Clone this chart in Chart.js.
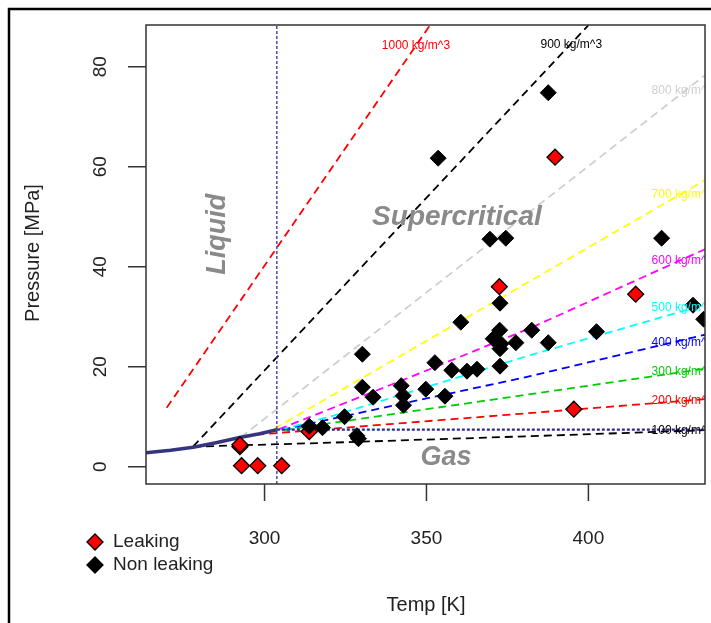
<!DOCTYPE html>
<html lang="en">
<head>
    <meta charset="UTF-8">
    <title>Pressure vs Temp</title>
    <script src="https://cdn.jsdelivr.net/npm/chart.js"></script>
    <style>
        html, body { margin: 0; padding: 0; background: #fff; }
        canvas { display: block; }
    </style>
</head>
<body>
    <canvas id="wykres" width="711" height="623"></canvas>

    <script>
        // axes
        const tempRange = [263.4, 436.0];
        const pressureRange = [-3.46, 88.34];
        const tempTicks = [300, 350, 400];
        const pressureTicks = [0, 20, 40, 60, 80];

        // samples [Temp K, Pressure MPa]
        const leaking = [[292.4, 4.0], [292.4, 4.4], [292.9, 0.2], [297.9, 0.2], [305.3, 0.2],
            [313.8, 7.0], [372.5, 36.0], [389.7, 61.9], [414.6, 34.5], [395.5, 11.5]];
        const nonLeaking = [[387.6, 74.8], [353.6, 61.7], [369.6, 45.5], [374.5, 45.7], [422.6, 45.7],
            [372.7, 32.7], [360.6, 28.9], [432.3, 32.3], [435.6, 29.5], [372.6, 27.3], [382.5, 27.3],
            [402.5, 27.0], [370.6, 25.6], [373.0, 24.6], [372.7, 23.6], [377.6, 24.8], [387.6, 24.8],
            [352.6, 20.8], [357.8, 19.3], [362.5, 19.1], [365.6, 19.5], [372.7, 20.1], [349.8, 15.5],
            [355.7, 14.1], [330.2, 22.5], [330.2, 15.9], [333.5, 13.9], [342.2, 16.2], [342.8, 14.2],
            [342.9, 12.3], [324.7, 10.0], [328.5, 6.2], [329.0, 5.6], [313.8, 8.1], [317.9, 7.8]];

        // phase boundary
        const saturation = [[263.4, 2.8], [271, 3.3], [278, 3.9], [285, 4.8], [292.7, 5.9], [298.5, 6.6], [303.8, 7.4]];
        const criticalPoint = [303.8, 7.4];

        // isochores
        const isoNames = ['1000 kg/m^3', '900 kg/m^3', '800 kg/m^3', '700 kg/m^3', '600 kg/m^3',
            '500 kg/m^3', '400 kg/m^3', '300 kg/m^3', '200 kg/m^3', '100 kg/m^3'];
        const iso1000 = [[269.8, 11.8], [351.1, 88.3]];
        const iso900 = [[277.9, 4.0], [400.0, 88.3]];
        const iso800 = [[292.7, 5.9], [436.0, 78.3]];
        const iso700 = [[303.0, 7.6], [436.0, 57.3]];
        const iso600 = [[304.5, 7.5], [348.0, 18.7], [382.0, 27.7], [436.0, 43.5]];
        const iso500 = [[305.0, 7.4], [320.2, 10.0], [382.0, 22.3], [436.0, 32.4]];
        const iso400 = [[305.5, 7.4], [320.2, 9.5], [382.0, 18.1], [436.0, 26.4]];
        const iso300 = [[306.0, 7.3], [320.2, 8.7], [382.0, 14.5], [436.0, 19.6]];
        const iso200 = [[297.4, 6.4], [436.0, 13.5]];
        const iso100 = [[277.9, 4.0], [320.2, 4.8], [382.0, 6.1], [436.0, 7.3]];

        const isochores = [iso1000, iso900, iso800, iso700, iso600, iso500, iso400, iso300, iso200, iso100];
        const isoColors = ['#ff0000', '#000000', '#cfcfcf', '#ffff00', '#ff00ff',
            '#00ffff', '#0000ff', '#00cd00', '#ff0000', '#000000'];
        // where the labels sit [Temp, Pressure]
        const isoLabelAt = [[336.2, 84.3], [385.2, 84.5], [419.5, 75.3], [419.5, 54.5], [419.5, 41.2],
            [419.5, 31.9], [419.5, 24.8], [419.5, 19.0], [419.5, 13.3], [419.5, 7.3]];

        const xy = pts => pts.map(([x, y]) => ({x, y}));
        const FONT = '"Liberation Sans", Arial, sans-serif';

        const datasets = [
            {
                label: 'Non leaking',
                data: xy(nonLeaking),
                pointStyle: 'rectRot',
                pointRadius: 8,
                backgroundColor: '#000',
                borderColor: '#000',
                borderWidth: 1,
                order: 0
            },
            {
                label: 'Leaking',
                data: xy(leaking),
                pointStyle: 'rectRot',
                pointRadius: 8,
                backgroundColor: '#ff0000',
                borderColor: '#000',
                borderWidth: 1.3,
                order: 1
            },
            {
                label: 'critical T',
                data: xy([[criticalPoint[0], pressureRange[0]], [criticalPoint[0], pressureRange[1]]]),
                showLine: true,
                pointRadius: 0,
                borderColor: '#3b3ba8',
                borderWidth: 1.4,
                borderDash: [3, 2],
                order: 2
            },
            {
                label: 'critical P',
                data: xy([criticalPoint, [tempRange[1], criticalPoint[1]]]),
                showLine: true,
                pointRadius: 0,
                borderColor: '#2e2e8c',
                borderWidth: 2.2,
                borderDash: [3, 2],
                order: 2
            },
            {
                label: 'saturation',
                data: xy(saturation),
                showLine: true,
                pointRadius: 0,
                borderColor: '#35357f',
                borderWidth: 3.5,
                order: 3
            }
        ];

        isochores.forEach((line, i) => {
            datasets.push({
                label: isoNames[i],
                data: xy(line),
                showLine: true,
                pointRadius: 0,
                borderColor: isoColors[i],
                borderWidth: 1.8,
                borderDash: [8, 5],
                order: 4
            });
        });

        function diamond(ctx, x, y, r, fill) {
            ctx.beginPath();
            ctx.moveTo(x - r, y);
            ctx.lineTo(x, y - r);
            ctx.lineTo(x + r, y);
            ctx.lineTo(x, y + r);
            ctx.closePath();
            ctx.fillStyle = fill;
            ctx.fill();
            ctx.lineWidth = 1.3;
            ctx.strokeStyle = '#000';
            ctx.stroke();
        }

        const rysunek = {
            id: 'rysunek',
            afterDatasetsDraw(chart) {
                const {ctx, chartArea: a, scales: {x, y}} = chart;
                ctx.save();
                ctx.beginPath();
                ctx.rect(a.left, a.top, a.right - a.left, a.bottom - a.top);
                ctx.clip();

                // isochore names
                ctx.font = '12px ' + FONT;
                ctx.textAlign = 'left';
                ctx.textBaseline = 'middle';
                isoNames.forEach((name, i) => {
                    ctx.fillStyle = isoColors[i];
                    ctx.fillText(name, x.getPixelForValue(isoLabelAt[i][0]), y.getPixelForValue(isoLabelAt[i][1]));
                });

                // phase regions
                ctx.fillStyle = '#8a8a8a';
                ctx.font = 'italic bold 28px ' + FONT;
                ctx.textAlign = 'center';
                ctx.fillText('Supercritical', x.getPixelForValue(359.4), y.getPixelForValue(49.9));
                ctx.font = 'italic bold 27px ' + FONT;
                ctx.fillText('Gas', x.getPixelForValue(356), y.getPixelForValue(1.9));
                ctx.save();
                ctx.translate(x.getPixelForValue(285.6), y.getPixelForValue(46.5));
                ctx.rotate(-Math.PI / 2);
                ctx.fillText('Liquid', 0, 0);
                ctx.restore();
                ctx.restore();
            },
            afterDraw(chart) {
                const {ctx, chartArea: a, scales: {x, y}} = chart;
                ctx.save();

                // box
                ctx.strokeStyle = '#333';
                ctx.lineWidth = 1.5;
                ctx.strokeRect(a.left, a.top, a.right - a.left, a.bottom - a.top);

                // ticks
                ctx.beginPath();
                tempTicks.forEach(t => {
                    const px = x.getPixelForValue(t);
                    ctx.moveTo(px, a.bottom);
                    ctx.lineTo(px, a.bottom + 17);
                });
                pressureTicks.forEach(p => {
                    const py = y.getPixelForValue(p);
                    ctx.moveTo(a.left, py);
                    ctx.lineTo(a.left - 18, py);
                });
                ctx.stroke();

                ctx.fillStyle = '#222';
                ctx.font = '19px ' + FONT;
                ctx.textAlign = 'center';
                ctx.textBaseline = 'middle';
                tempTicks.forEach(t => ctx.fillText(String(t), x.getPixelForValue(t), 539));
                pressureTicks.forEach(p => {
                    ctx.save();
                    ctx.translate(101, y.getPixelForValue(p));
                    ctx.rotate(-Math.PI / 2);
                    ctx.fillText(String(p), 0, 0);
                    ctx.restore();
                });

                // axis titles
                ctx.font = '20px ' + FONT;
                ctx.fillText('Temp [K]', 426, 605);
                ctx.save();
                ctx.translate(33, 253);
                ctx.rotate(-Math.PI / 2);
                ctx.fillText('Pressure [MPa]', 0, 0);
                ctx.restore();

                // legend
                diamond(ctx, 95, 542, 8, '#ff0000');
                diamond(ctx, 95, 565, 8, '#000');
                ctx.fillStyle = '#222';
                ctx.font = '19px ' + FONT;
                ctx.textAlign = 'left';
                ctx.fillText('Leaking', 113, 542);
                ctx.fillText('Non leaking', 113, 565);

                // outer frame
                ctx.strokeStyle = '#000';
                ctx.lineWidth = 2.5;
                ctx.beginPath();
                ctx.moveTo(9, chart.height);
                ctx.lineTo(9, 9);
                ctx.lineTo(chart.width, 9);
                ctx.stroke();
                ctx.restore();
            }
        };

        new Chart(document.getElementById('wykres').getContext('2d'), {
            type: 'scatter',
            data: { datasets: datasets },
            options: {
                responsive: false,
                animation: false,
                devicePixelRatio: 1,
                layout: { autoPadding: false, padding: { left: 146, top: 25, right: 6, bottom: 139 } },
                scales: {
                    x: { type: 'linear', min: tempRange[0], max: tempRange[1], display: false },
                    y: { type: 'linear', min: pressureRange[0], max: pressureRange[1], display: false }
                },
                plugins: {
                    legend: { display: false },
                    tooltip: { enabled: false }
                }
            },
            plugins: [rysunek]
        });
    </script>
</body>
</html>
